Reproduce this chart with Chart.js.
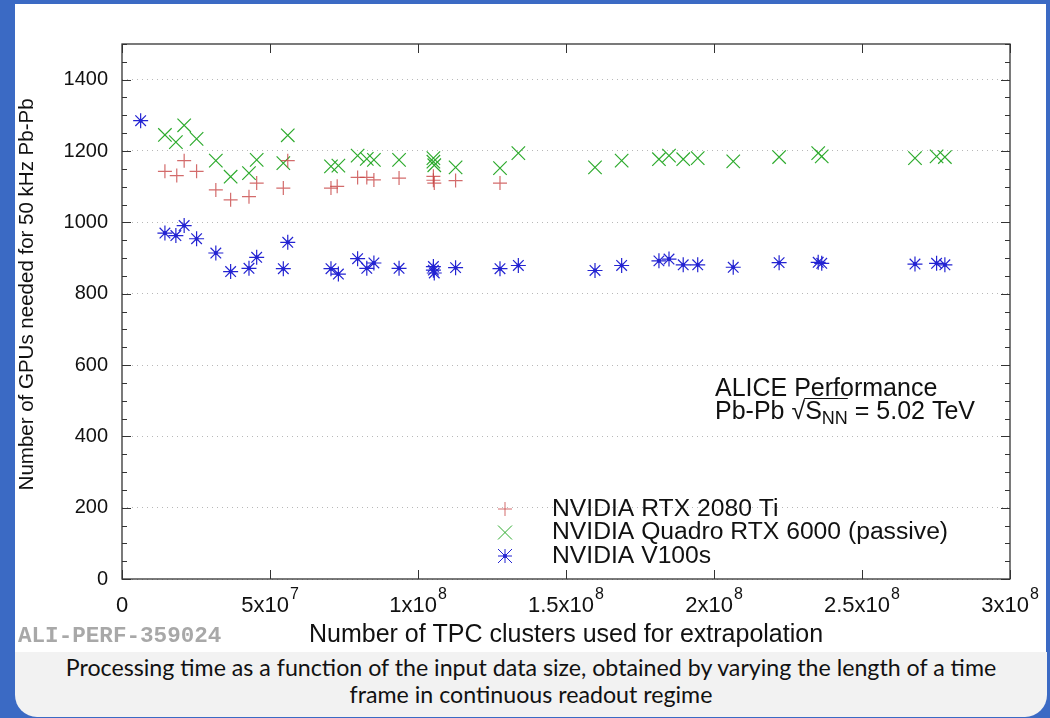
<!DOCTYPE html>
<html>
<head>
<meta charset="utf-8">
<script src="https://cdn.jsdelivr.net/npm/chart.js@4/dist/chart.umd.min.js"></script>
<style>
  html, body { margin: 0; padding: 0; }
  body { width: 1050px; height: 718px; background: #3b6ac4; position: relative; overflow: hidden; }
  #panel { position: absolute; left: 15px; top: 4px; width: 1031px; height: 648px; background: #fff; }
  #caption { position: absolute; left: 15px; top: 652px; width: 1032px; height: 65px; background: #f2f2f2;
    border-radius: 0 0 22px 22px; font-family: Lato, sans-serif; font-size: 23.2px; line-height: 27px;
    text-align: center; color: #111; padding-top: 2px; box-sizing: border-box; }
  #wrap { position: absolute; left: 15px; top: 4px; width: 1031px; height: 648px; }
  #perf { position: absolute; left: 18px; top: 623px; font-family: "Liberation Mono", monospace; font-weight: bold;
    font-size: 22.6px; color: #a8a8a8; }
</style>
</head>
<body>
<div id="panel"></div>
<div id="wrap"><canvas id="grafica" width="1031" height="648"></canvas></div>
<div id="perf">ALI-PERF-359024</div>
<div id="caption">Processing time as a function of the input data size, obtained by varying the length of a time<br>frame in continuous readout regime</div>
<script>
const ctx = document.getElementById("grafica");

// clusters (x) and GPUs needed (y) per card
const clustersRtx2080 = [1.45e7, 1.85e7, 2.1e7, 2.52e7, 3.17e7, 3.67e7, 4.29e7, 4.55e7, 5.45e7, 5.6e7,
  7.06e7, 7.27e7, 7.96e7, 8.27e7, 8.51e7, 9.36e7, 1.052e8, 1.052e8, 1.055e8, 1.127e8, 1.277e8];
const gpusRtx2080 = [1143, 1131, 1173, 1143, 1091, 1063, 1072, 1110, 1096, 1173,
  1096, 1101, 1126, 1126, 1119, 1124, 1129, 1118, 1110, 1117, 1110];

const clustersQuadro = [1.45e7, 1.82e7, 2.1e7, 2.52e7, 3.17e7, 3.67e7, 4.29e7, 4.55e7, 5.45e7, 5.6e7,
  7.06e7, 7.31e7, 7.96e7, 8.27e7, 8.51e7, 9.36e7, 1.052e8, 1.052e8, 1.055e8, 1.127e8, 1.277e8, 1.339e8,
  1.598e8, 1.688e8, 1.814e8, 1.848e8, 1.896e8, 1.945e8, 2.065e8, 2.22e8, 2.352e8, 2.364e8, 2.679e8, 2.752e8, 2.78e8];
const gpusQuadro = [1245, 1225, 1272, 1234, 1173, 1128, 1138, 1175, 1166, 1244,
  1157, 1159, 1187, 1178, 1175, 1175, 1180, 1170, 1160, 1154, 1152, 1194,
  1154, 1173, 1177, 1187, 1177, 1180, 1171, 1183, 1194, 1185, 1180, 1185, 1183];

const clustersV100 = [6.3e6, 1.45e7, 1.82e7, 2.1e7, 2.52e7, 3.17e7, 3.67e7, 4.29e7, 4.55e7, 5.45e7, 5.6e7,
  7.06e7, 7.31e7, 7.96e7, 8.27e7, 8.51e7, 9.36e7, 1.052e8, 1.052e8, 1.055e8, 1.127e8, 1.277e8, 1.339e8,
  1.598e8, 1.688e8, 1.814e8, 1.848e8, 1.896e8, 1.945e8, 2.065e8, 2.22e8, 2.352e8, 2.364e8, 2.679e8, 2.752e8, 2.78e8];
const gpusV100 = [1285, 970, 963, 991, 954, 914, 862, 871, 902, 870, 944,
  870, 855, 898, 871, 886, 871, 876, 866, 858, 873, 870, 879,
  865, 879, 892, 897, 881, 881, 874, 887, 888, 885, 883, 885, 881];

const seriesNames = ["NVIDIA RTX 2080 Ti", "NVIDIA Quadro RTX 6000 (passive)", "NVIDIA V100s"];

const xTickValues = [0, 5e7, 1e8, 1.5e8, 2e8, 2.5e8, 3e8];
const xTickBase = ["0", "5x10", "1x10", "1.5x10", "2x10", "2.5x10", "3x10"];
const xTickExp = ["", "7", "8", "8", "8", "8", "8"];
const yTickValues = [0, 200, 400, 600, 800, 1000, 1200, 1400];

const rojo = "rgba(200, 70, 70, 0.8)";
const verde = "rgb(45, 170, 45)";
const azul = "rgb(35, 35, 210)";
const fuente = "'Liberation Sans', Arial, sans-serif";

function puntos(xs, ys) {
  return xs.map((x, i) => ({ x: x, y: ys[i] }));
}

// frame, inward ticks, x labels with exponents, legend and the ALICE label
const marco = {
  id: "marco",
  afterDraw(chart) {
    const c = chart.ctx;
    const a = chart.chartArea;
    const sx = chart.scales.x, sy = chart.scales.y;
    c.save();
    c.strokeStyle = "#333";
    c.lineWidth = 1.3;
    c.strokeRect(a.left, a.top, a.right - a.left, a.bottom - a.top);
    c.lineWidth = 1;
    c.beginPath();
    xTickValues.forEach(v => {
      const px = Math.round(sx.getPixelForValue(v)) + 0.5;
      c.moveTo(px, a.bottom); c.lineTo(px, a.bottom - 9);
      c.moveTo(px, a.top); c.lineTo(px, a.top + 9);
    });
    for (let v = 0; v <= 1500; v += 50) {
      const py = Math.round(sy.getPixelForValue(v)) + 0.5;
      const len = v % 200 === 0 ? 9 : 5;
      c.moveTo(a.left, py); c.lineTo(a.left + len, py);
      c.moveTo(a.right, py); c.lineTo(a.right - len, py);
    }
    c.stroke();

    // x tick labels
    c.fillStyle = "#111";
    c.textBaseline = "middle";
    c.textAlign = "left";
    xTickValues.forEach((v, i) => {
      c.font = "22px " + fuente;
      const wb = c.measureText(xTickBase[i]).width;
      c.font = "16px " + fuente;
      const we = xTickExp[i] ? c.measureText(xTickExp[i]).width + 1 : 0;
      const x0 = sx.getPixelForValue(v) - (wb + we) / 2;
      c.font = "22px " + fuente;
      c.fillText(xTickBase[i], x0, a.bottom + 27);
      if (xTickExp[i]) {
        c.font = "16px " + fuente;
        c.fillText(xTickExp[i], x0 + wb + 1, a.bottom + 16);
      }
    });

    // legend
    const lx = a.left + 383, ly = a.top + 465, dy = 23.5;
    const r = 7;
    c.lineWidth = 1;
    c.strokeStyle = rojo;
    c.beginPath();
    c.moveTo(lx - r, ly); c.lineTo(lx + r, ly);
    c.moveTo(lx, ly - r); c.lineTo(lx, ly + r);
    c.stroke();
    c.strokeStyle = verde;
    c.beginPath();
    c.moveTo(lx - r, ly + dy - r); c.lineTo(lx + r, ly + dy + r);
    c.moveTo(lx - r, ly + dy + r); c.lineTo(lx + r, ly + dy - r);
    c.stroke();
    c.strokeStyle = azul;
    const y3 = ly + 2 * dy;
    c.beginPath();
    c.moveTo(lx - r, y3); c.lineTo(lx + r, y3);
    c.moveTo(lx, y3 - r); c.lineTo(lx, y3 + r);
    c.moveTo(lx - r, y3 - r); c.lineTo(lx + r, y3 + r);
    c.moveTo(lx - r, y3 + r); c.lineTo(lx + r, y3 - r);
    c.stroke();
    c.fillStyle = azul;
    c.beginPath(); c.arc(lx, y3, 2, 0, Math.PI * 2); c.fill();

    c.fillStyle = "#111";
    c.font = "24.7px " + fuente;
    seriesNames.forEach((n, i) => c.fillText(n, lx + 47, ly + i * dy));

    // ALICE Performance
    const tx = a.left + 593, ty = a.top + 345;
    c.font = "25px " + fuente;
    c.fillText("ALICE Performance", tx, ty);
    const y2 = ty + 23;
    let x = tx;
    const p1 = "Pb-Pb \u221A";
    c.fillText(p1, x, y2);
    x += c.measureText(p1).width;
    const sStart = x;
    c.fillText("S", x, y2);
    x += c.measureText("S").width;
    c.font = "18px " + fuente;
    c.fillText("NN", x, y2 + 7);
    x += c.measureText("NN").width;
    c.strokeStyle = "#111";
    c.beginPath();
    c.moveTo(sStart - 1, y2 - 13.5); c.lineTo(x, y2 - 13.5);
    c.stroke();
    c.font = "25px " + fuente;
    c.fillText(" = 5.02 TeV", x, y2);
    c.restore();
  }
};

new Chart(ctx, {
  type: "scatter",
  data: {
    datasets: [
      {
        label: seriesNames[0],
        data: puntos(clustersRtx2080, gpusRtx2080),
        pointStyle: "cross",
        pointRadius: 7,
        pointHoverRadius: 7,
        borderColor: rojo,
        borderWidth: 1.2
      },
      {
        label: seriesNames[1],
        data: puntos(clustersQuadro, gpusQuadro),
        pointStyle: "crossRot",
        pointRadius: 9.5,
        pointHoverRadius: 9.5,
        borderColor: verde,
        borderWidth: 1.2
      },
      {
        label: seriesNames[2],
        data: puntos(clustersV100, gpusV100),
        pointStyle: "star",
        pointRadius: 7.5,
        pointHoverRadius: 7.5,
        borderColor: azul,
        borderWidth: 1.2
      },
      {
        label: "centros",
        data: puntos(clustersV100, gpusV100),
        pointStyle: "circle",
        pointRadius: 2,
        borderWidth: 0,
        backgroundColor: azul
      }
    ]
  },
  options: {
    responsive: false,
    animation: false,
    events: [],
    layout: { padding: { top: 40, right: 36, left: 0, bottom: 0 } },
    plugins: { legend: { display: false }, tooltip: { enabled: false } },
    scales: {
      x: {
        type: "linear",
        min: 0,
        max: 3e8,
        afterFit(s) { s.height = 73; },
        afterBuildTicks(s) { s.ticks = xTickValues.map(v => ({ value: v })); },
        grid: { display: false, drawTicks: false },
        border: { display: false },
        ticks: { display: false },
        title: {
          display: true,
          text: "Number of TPC clusters used for extrapolation",
          color: "#111",
          padding: { top: 0, bottom: 2 },
          font: { family: fuente, size: 25 }
        }
      },
      y: {
        min: 0,
        max: 1500,
        afterFit(s) { s.width = 107; },
        afterBuildTicks(s) { s.ticks = yTickValues.map(v => ({ value: v })); },
        grid: { color: "#b8b8b8", lineWidth: 1, drawTicks: false },
        border: { display: false, dash: [1, 4] },
        ticks: {
          padding: 14,
          color: "#111",
          font: { family: fuente, size: 20 },
          callback: (v) => String(v)
        },
        title: {
          display: true,
          text: "      Number of GPUs needed for 50 kHz Pb-Pb",
          color: "#111",
          padding: { top: 0, bottom: 0 },
          font: { family: fuente, size: 20.5 }
        }
      }
    }
  },
  plugins: [marco]
});
</script>
</body>
</html>
